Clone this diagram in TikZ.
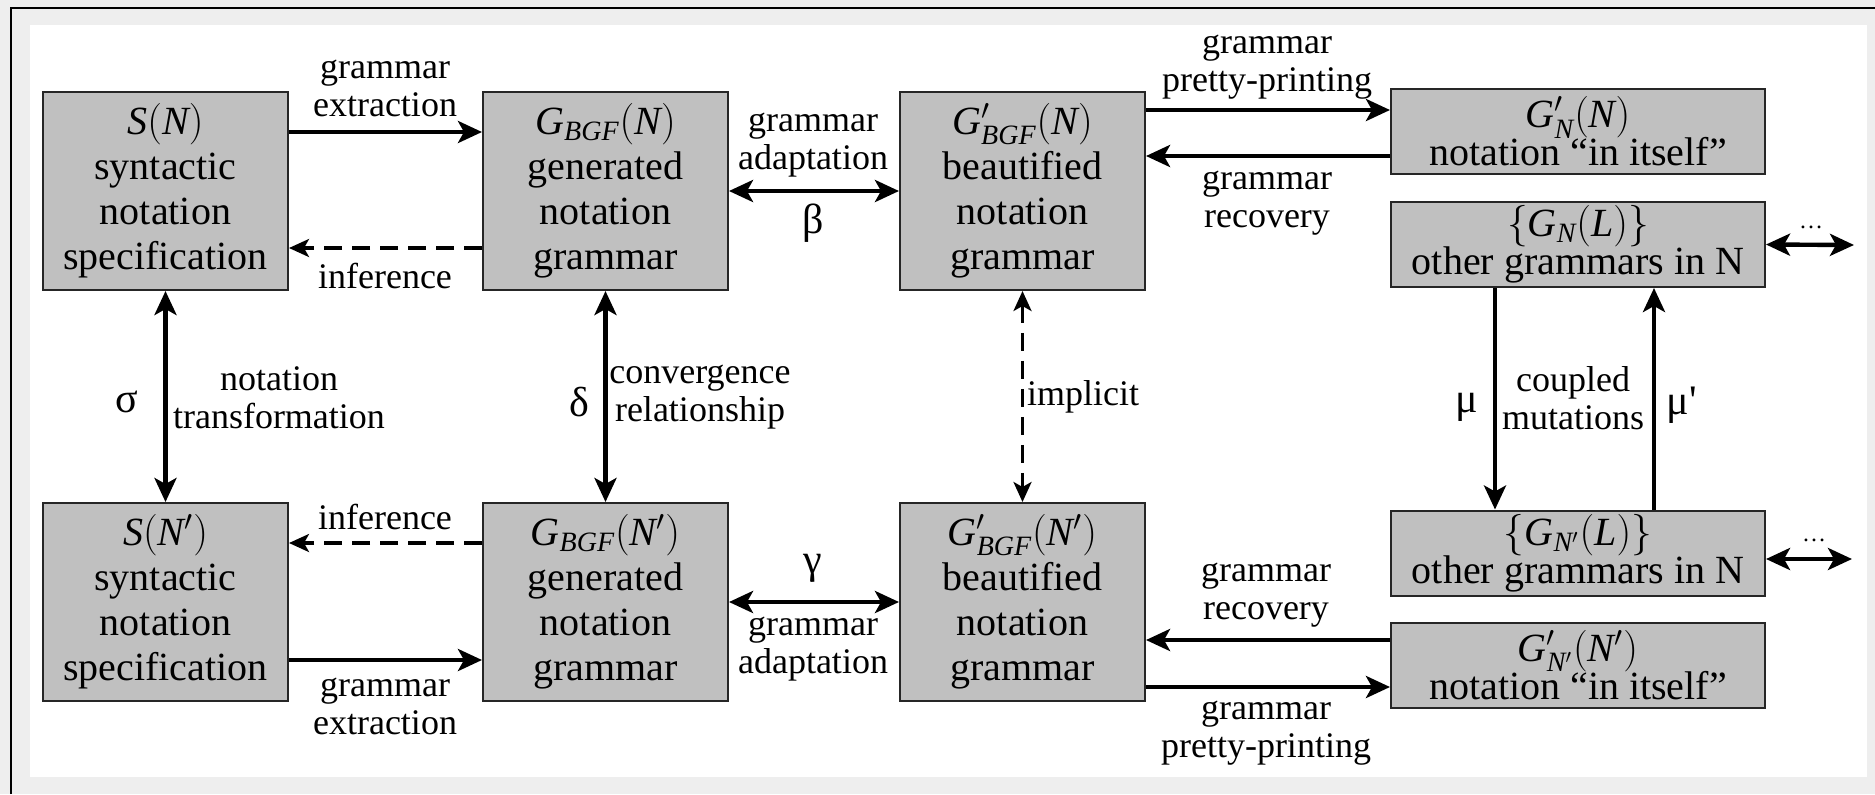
\documentclass[tikz,border=0pt]{standalone}
\usepackage{fontspec}
\IfFontExistsTF{LiberationSerif-Regular.ttf}{%
  \setmainfont{LiberationSerif}[Extension=.ttf,UprightFont=*-Regular,ItalicFont=*-Italic,BoldFont=*-Bold,BoldItalicFont=*-BoldItalic]}{%
  \setmainfont{Liberation Serif}}
\usetikzlibrary{arrows.meta,calc}
\definecolor{bggray}{RGB}{238,238,238}
\definecolor{boxgray}{RGB}{192,192,192}
\lineskiplimit=-100pt
\begin{document}
\begin{tikzpicture}[x=0.5pt,y=-0.5pt,
  gbox/.style={draw=black!85, line width=1pt, fill=boxgray, minimum width=122.5pt, minimum height=99pt, inner sep=0pt, align=center, font=\fontsize{20}{22.5}\selectfont},
  sbox/.style={gbox, minimum width=187pt, minimum height=42.5pt, font=\fontsize{20}{19}\selectfont},
  lab/.style={align=center, inner sep=0pt, font=\fontsize{18}{19}\selectfont},
  greek/.style={inner sep=0pt, font=\fontsize{21}{21}\selectfont},
  dots/.style={inner sep=0pt, font=\fontsize{12}{12}\selectfont},
  arr/.style={line width=2.2pt, -{Stealth[length=12pt,width=11pt,inset=3pt]}},
  darr/.style={line width=2.2pt, {Stealth[length=12pt,width=11pt,inset=3pt]}-{Stealth[length=12pt,width=11pt,inset=3pt]}},
  dsh/.style={line width=1.6pt, dash pattern=on 9pt off 5pt, -{Stealth[length=10pt,width=9pt,inset=2.5pt]}},
  ddsh/.style={line width=1.6pt, dash pattern=on 9pt off 5pt, {Stealth[length=10pt,width=9pt,inset=2.5pt]}-{Stealth[length=10pt,width=9pt,inset=2.5pt]}},
]
\useasboundingbox (0,0) rectangle (1875,794);
% background
\fill[bggray] (0,0) rectangle (1875,794);
\fill[white] (30,25) rectangle (1867,777);
\draw[line width=1pt] (10.7,794) -- (10.7,7.5) -- (1875,7.5);

% boxes
\node[gbox] (b1) at (165.5,191) {$\mathit{S}(\mathit{N})$\\syntactic\\notation\\specification};
\node[gbox] (b2) at (605.5,191) {$\mathit{G}_{\mathit{BGF}}(\mathit{N})$\\generated\\notation\\grammar};
\node[gbox] (b3) at (1022.5,191) {$\mathit{G}'_{\mathit{BGF}}(\mathit{N})$\\beautified\\notation\\grammar};
\node[sbox] (b4) at (1578,131.5) {$\mathit{G}'_{\mathit{N}}(\mathit{N})$\\notation “in itself”};
\node[sbox] (b5) at (1578,244.5) {$\{\mathit{G}_{\mathit{N}}(\mathit{L})\}$\\other grammars in N};
\node[gbox] (b6) at (165.5,602) {$\mathit{S}(\mathit{N}')$\\syntactic\\notation\\specification};
\node[gbox] (b7) at (605.5,602) {$\mathit{G}_{\mathit{BGF}}(\mathit{N}')$\\generated\\notation\\grammar};
\node[gbox] (b8) at (1022.5,602) {$\mathit{G}'_{\mathit{BGF}}(\mathit{N}')$\\beautified\\notation\\grammar};
\node[sbox] (b9) at (1578,553) {$\{\mathit{G}_{\mathit{N}'}(\mathit{L})\}$\\other grammars in N};
\node[sbox] (b10) at (1578,665) {$\mathit{G}'_{\mathit{N}'}(\mathit{N}')$\\notation “in itself”};

% helper levels
\coordinate (yExt) at (0,132);
\coordinate (yInf) at (0,248);
\coordinate (yPP) at (0,110);
\coordinate (yRec) at (0,156);
\coordinate (yInfB) at (0,543);
\coordinate (yExtB) at (0,660);
\coordinate (yRecB) at (0,640);
\coordinate (yPPB) at (0,687);
\coordinate (yDotB) at (0,559);
\coordinate (xMu) at (1495,0);
\coordinate (xMup) at (1654,0);
\coordinate (e1) at (1854,245);
\coordinate (e2) at (1852,559);

% top row connectors
\draw[arr] (b1.east |- yExt) -- (b2.west |- yExt);
\draw[dsh] (b2.west |- yInf) -- (b1.east |- yInf);
\draw[darr] (b2.east) -- (b3.west);
\draw[arr] (b3.east |- yPP) -- (b4.west |- yPP);
\draw[arr] (b4.west |- yRec) -- (b3.east |- yRec);
\draw[darr] (b5.east) -- (e1);

% bottom row connectors
\draw[dsh] (b7.west |- yInfB) -- (b6.east |- yInfB);
\draw[arr] (b6.east |- yExtB) -- (b7.west |- yExtB);
\draw[darr] (b7.east) -- (b8.west);
\draw[arr] (b10.west |- yRecB) -- (b8.east |- yRecB);
\draw[arr] (b8.east |- yPPB) -- (b10.west |- yPPB);
\draw[darr] (b9.east |- yDotB) -- (e2);

% vertical connectors
\draw[darr] (b1.south) -- (b6.north);
\draw[darr] (b2.south) -- (b7.north);
\draw[ddsh] (b3.south) -- (b8.north);
\draw[arr] (b5.south -| xMu) -- (b9.north -| xMu);
\draw[arr] (b9.north -| xMup) -- (b5.south -| xMup);

% labels
\node[lab] (l1) at (385,88) {grammar\\extraction};
\node[lab] (l2) at (385,276) {inference};
\node[lab] (l3) at (813,145) {grammar\\adaptation};
\node[greek] (g1) at (813,223) {β};
\node[lab] (l4) at (1267,67.5) {grammar\\pretty-printing};
\node[lab] (l5) at (1267,203.5) {grammar\\recovery};
\node[dots] (d1) at (1811,227) {…};

\node[greek] (g2) at (127,402) {σ};
\node[lab] (l6) at (279,397.5) {notation\\transformation};
\node[greek] (g3) at (579,402) {δ};
\node[lab] (l7) at (700,397.5) {convergence\\relationship};
\node[lab] (l8) at (1083,397) {implicit};
\node[greek] (g4) at (1467,407) {μ};
\node[lab] (l9) at (1573,398.5) {coupled\\mutations};
\node[greek] (g5) at (1682,405) {μ\textquotesingle};

\node[lab] (l10) at (385,517) {inference};
\node[lab] (l11) at (385,706.5) {grammar\\extraction};
\node[greek] (g6) at (813,568) {γ};
\node[lab] (l12) at (813,649) {grammar\\adaptation};
\node[lab] (l13) at (1266,595) {grammar\\recovery};
\node[lab] (l14) at (1266,733.5) {grammar\\pretty-printing};
\node[dots] (d2) at (1814,540) {…};
\end{tikzpicture}
\end{document}
